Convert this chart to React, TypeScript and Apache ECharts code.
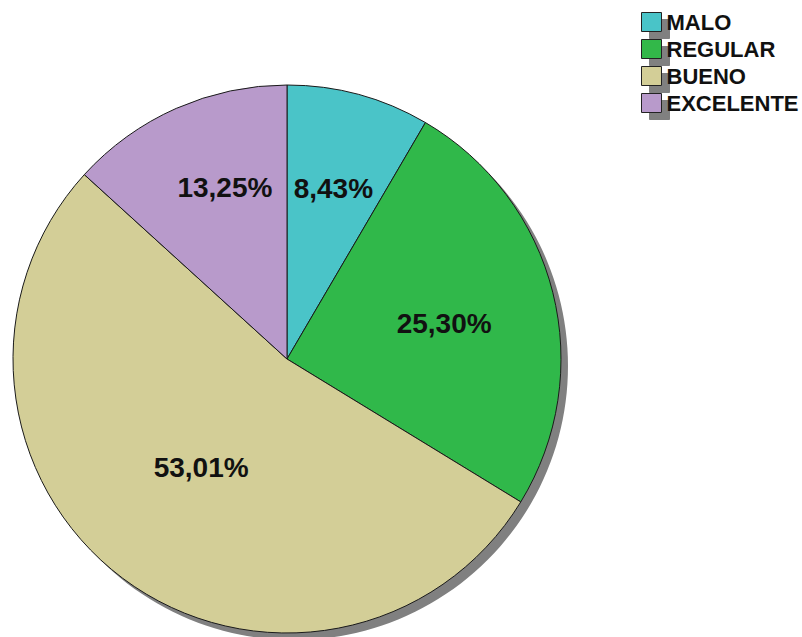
import React, { useEffect, useRef } from "react";
import * as echarts from "echarts";

const categories = ["MALO", "REGULAR", "BUENO", "EXCELENTE"];
const percentages = [8.43, 25.3, 53.01, 13.25];
const colors = ["#4AC4C8", "#30B84A", "#D3CE97", "#B89ACB"];

const CX = 287;
const CY = 359;
const R = 274;
// label placement (radius in px, angular nudge in degrees, clockwise)
const labelRadii = [177, 161, 138, 182];
const labelAngleNudge = [0, 1.5, 1.6, 3.9];

export default function App() {
  const ref = useRef<HTMLDivElement>(null);
  useEffect(() => {
    if (!ref.current) return;
    const chart = echarts.init(ref.current, null, { renderer: "svg" });
    const total = percentages.reduce((a, b) => a + b, 0);
    chart.setOption({
      animation: false,
      backgroundColor: "#ffffff",
      legend: {
        data: categories,
        orient: "vertical",
        left: 641,
        top: 11,
        icon: "rect",
        itemWidth: 20,
        itemHeight: 19,
        itemGap: 5,
        padding: 0,
        selectedMode: false,
        itemStyle: {
          borderColor: "#222",
          borderWidth: 1,
          shadowColor: "#808080",
          shadowBlur: 0,
          shadowOffsetX: 8,
          shadowOffsetY: 7,
        },
        textStyle: {
          fontFamily: "Liberation Sans, Arial, sans-serif",
          fontWeight: "bold",
          fontSize: 22,
          color: "#111",
          lineHeight: 19,
        },
      },
      series: [
        {
          type: "pie",
          silent: true,
          center: [CX + 7, CY + 7],
          radius: R,
          startAngle: 90,
          label: { show: false },
          labelLine: { show: false },
          itemStyle: { color: "#808080" },
          data: [{ name: "shadow", value: total }],
        },
        {
          type: "pie",
          center: [CX, CY],
          radius: R,
          startAngle: 90,
          clockwise: true,
          silent: true,
          itemStyle: { borderColor: "#1a1a1a", borderWidth: 1 },
          label: {
            show: true,
            position: "inside",
            fontFamily: "Liberation Sans, Arial, sans-serif",
            fontWeight: "bold",
            fontSize: 28,
            color: "#111",
            formatter: (p: any) => p.value.toFixed(2).replace(".", ",") + "%",
          },
          labelLine: { show: false },
          labelLayout: (p: any) => {
            const i = p.dataIndex;
            const lx = p.labelRect.x + p.labelRect.width / 2;
            const ly = p.labelRect.y + p.labelRect.height / 2;
            const ang = Math.atan2(lx - CX, CY - ly) + (labelAngleNudge[i] * Math.PI) / 180;
            const r = labelRadii[i];
            const tx = CX + r * Math.sin(ang);
            const ty = CY - r * Math.cos(ang);
            return { dx: tx - lx, dy: ty - ly };
          },
          data: categories.map((c, i) => ({
            name: c,
            value: percentages[i],
            itemStyle: { color: colors[i] },
          })),
        },
      ],
    });
    return () => chart.dispose();
  }, []);
  return (
    <div
      ref={ref}
      style={{ position: "fixed", left: 0, top: 0, width: 802, height: 637 }}
    />
  );
}
